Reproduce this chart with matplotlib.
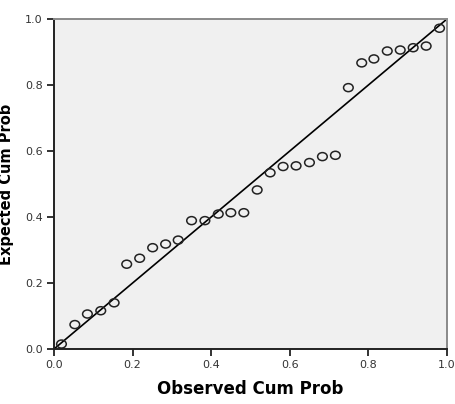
import matplotlib
matplotlib.use('Agg')
import matplotlib.pyplot as plt
from matplotlib.path import Path
from matplotlib.transforms import Affine2D

observed = [0.019, 0.053, 0.085, 0.119, 0.153, 0.185, 0.218, 0.251, 0.284, 0.316,
            0.350, 0.384, 0.418, 0.450, 0.483, 0.517, 0.550, 0.583, 0.616, 0.650,
            0.683, 0.716, 0.749, 0.783, 0.814, 0.848, 0.881, 0.914, 0.947, 0.981]
expected = [0.015, 0.074, 0.106, 0.116, 0.140, 0.257, 0.275, 0.307, 0.318, 0.330,
            0.389, 0.389, 0.409, 0.413, 0.413, 0.482, 0.534, 0.553, 0.555, 0.565,
            0.583, 0.587, 0.792, 0.867, 0.879, 0.903, 0.906, 0.913, 0.918, 0.972]
ticks = [0.0, 0.2, 0.4, 0.6, 0.8, 1.0]
tick_labels = ['0.0', '0.2', '0.4', '0.6', '0.8', '1.0']

fig = plt.figure(figsize=(4.56, 4.04), dpi=100)
ax = fig.add_axes([54 / 456, 55 / 404, 393 / 456, 330 / 404])
ax.set_facecolor('#f0f0f0')

# 稍扁的圆圈标记
ellipse = Path.unit_circle().transformed(Affine2D().scale(1.2, 1.0))

ax.plot([0, 1], [0, 1], color='black', linewidth=1.2, zorder=2)
ax.scatter(observed, expected, s=48, marker=ellipse, facecolors='none',
           edgecolors='#222222', linewidths=1.1, zorder=3, clip_on=False)

ax.set_xlim(0, 1)
ax.set_ylim(0, 1)
ax.set_xticks(ticks)
ax.set_xticklabels(tick_labels)
ax.set_yticks(ticks)
ax.set_yticklabels(tick_labels)
ax.tick_params(direction='out', length=5, width=1.3, color='#222222',
               labelsize=8, labelcolor='#333333', pad=3)

for side in ['left', 'bottom']:
    ax.spines[side].set_color('#222222')
    ax.spines[side].set_linewidth(1.4)
for side in ['top', 'right']:
    ax.spines[side].set_color('#8a8a8a')
    ax.spines[side].set_linewidth(1.4)

ax.set_xlabel('Observed Cum Prob', fontsize=12, fontweight='bold', labelpad=7)
ax.set_ylabel('Expected Cum Prob', fontsize=10.5, fontweight='bold', labelpad=8)

fig.savefig('out.png', dpi=100)
